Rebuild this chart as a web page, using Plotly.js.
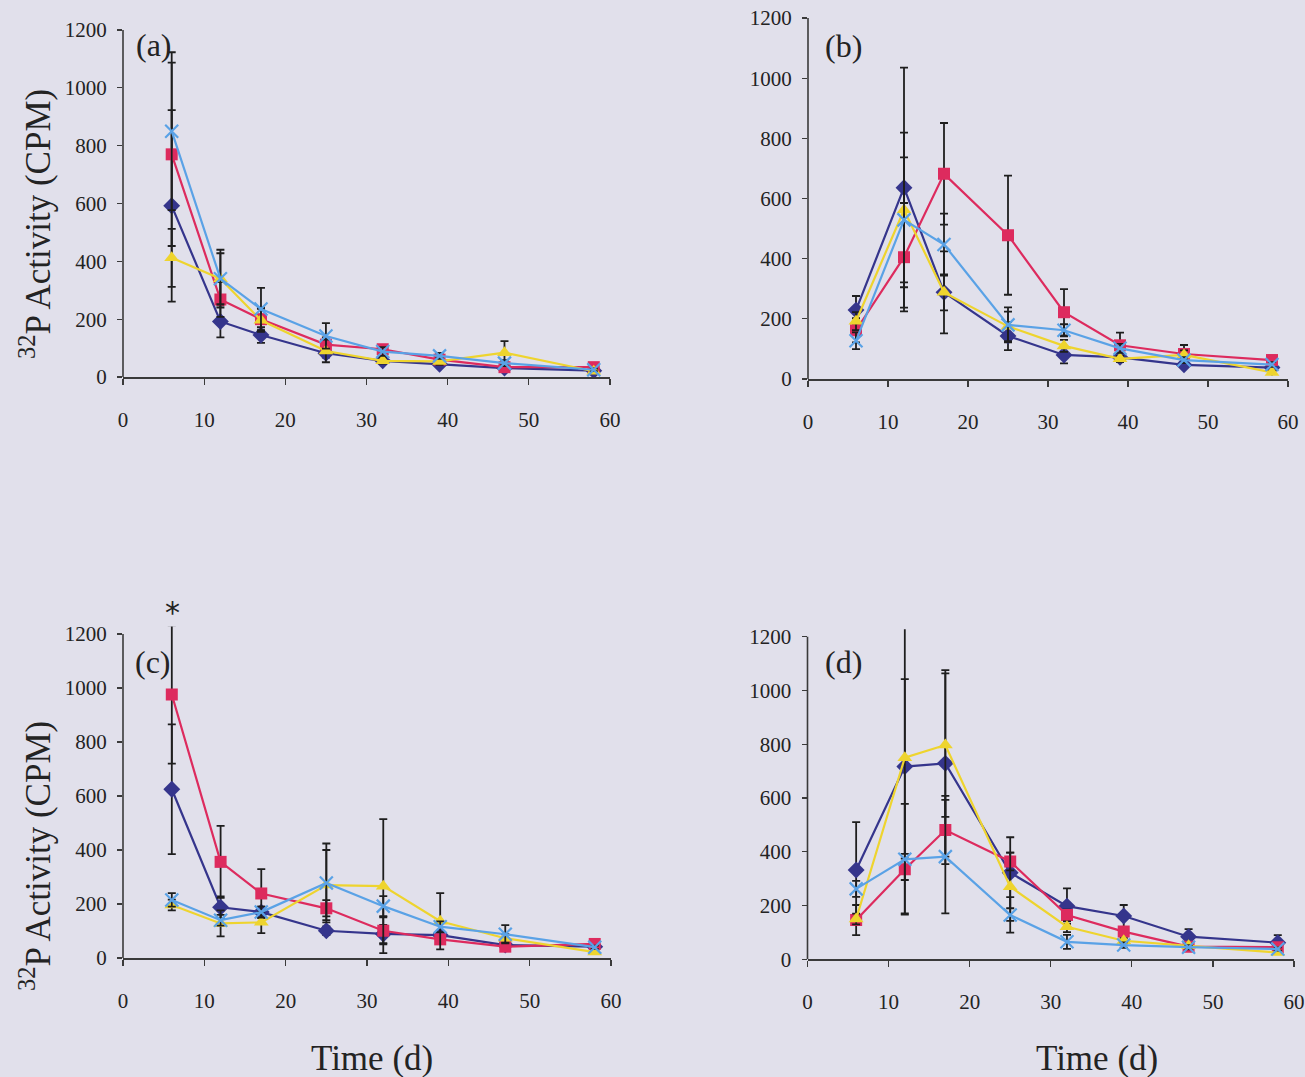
<!DOCTYPE html>
<html>
<head>
<meta charset="utf-8">
<script src="https://cdn.plot.ly/plotly-3.0.1.min.js"></script>
<style>
  html, body { margin: 0; padding: 0; background: #e1e0eb; }
  #chart { width: 1305px; height: 1077px; }
</style>
</head>
<body>
<div id="chart"></div>
<script>
// ---- data (time in days, 32P activity in CPM) ----
const days = [6, 12, 17, 25, 32, 39, 47, 58];
const yTicks = [0, 200, 400, 600, 800, 1000, 1200];
const xTicks = [0, 10, 20, 30, 40, 50, 60];
const panelLabels = ['(a)', '(b)', '(c)', '(d)'];
const seriesNames = ['Series 1', 'Series 2', 'Series 3', 'Series 4'];

// panel (a)
const aDiamond = [592, 192, 145, 82, 56, 44, 31, 22];
const aDiamondErr = [331, 55, 27, 15, 10, 8, 6, 4];
const aSquare = [770, 268, 200, 112, 96, 60, 34, 34];
const aSquareErr = [317, 60, 40, 25, 12, 10, 8, 6];
const aTriangle = [412, 340, 196, 90, 56, 54, 84, 20];
const aTriangleErr = [100, 88, 40, 39, 10, 12, 40, 5];
const aCross = [850, 340, 235, 142, 88, 73, 48, 25];
const aCrossErr = [273, 100, 73, 44, 15, 10, 10, 5];

// panel (b)
const bDiamond = [229, 636, 288, 143, 80, 72, 47, 38];
const bDiamondErr = [47, 399, 136, 47, 28, 15, 10, 8];
const bSquare = [162, 405, 682, 478, 222, 112, 83, 63];
const bSquareErr = [40, 180, 169, 198, 77, 42, 30, 15];
const bTriangle = [192, 562, 288, 175, 110, 67, 80, 22];
const bTriangleErr = [30, 257, 60, 49, 20, 10, 15, 5];
const bCross = [127, 529, 447, 180, 162, 102, 63, 48];
const bCrossErr = [28, 208, 103, 58, 20, 15, 10, 8];

// panel (c)
const cDiamond = [625, 188, 170, 101, 89, 85, 48, 42];
const cDiamondErr = [240, 40, 20, 16, 34, 15, 8, 6];
const cSquare = [976, 356, 239, 184, 101, 69, 42, 52];
const cSquareErr = [256, 133, 90, 30, 50, 12, 8, 6];
const cTriangle = [196, 128, 132, 270, 266, 136, 73, 22];
const cTriangleErr = [20, 48, 40, 130, 248, 104, 15, 5];
const cCross = [215, 140, 170, 278, 192, 116, 88, 40];
const cCrossErr = [25, 20, 20, 146, 37, 20, 34, 6];

// panel (d)
const dDiamond = [332, 717, 729, 322, 198, 161, 84, 62];
const dDiamondErr = [178, 325, 347, 132, 66, 41, 28, 28];
const dSquare = [146, 335, 481, 364, 165, 103, 47, 45];
const dSquareErr = [56, 40, 127, 33, 20, 15, 8, 8];
const dTriangle = [150, 750, 797, 270, 121, 69, 50, 25];
const dTriangleErr = [20, 579, 267, 127, 20, 10, 8, 5];
const dCross = [262, 372, 382, 165, 65, 53, 45, 38];
const dCrossErr = [30, 206, 211, 66, 26, 10, 8, 6];

// ---- styles ----
const FONT = '"Liberation Serif", "Times New Roman", serif';
const TXT = '#232323';
const AX = '#3a3a3a';
const styles = [
  { color: '#35358c', symbol: 'diamond', size: 13, lw: 0 },
  { color: '#dd2b5e', symbol: 'square', size: 12, lw: 0 },
  { color: '#eed42e', symbol: 'triangle-up', size: 13, lw: 0 },
  { color: '#5aa2e6', symbol: 'x-thin-open', size: 13, lw: 2.2 }
];

const panels = [
  { xa: 'x',  ya: 'y',  series: [[aDiamond, aDiamondErr], [aSquare, aSquareErr], [aTriangle, aTriangleErr], [aCross, aCrossErr]] },
  { xa: 'x2', ya: 'y2', series: [[bDiamond, bDiamondErr], [bSquare, bSquareErr], [bTriangle, bTriangleErr], [bCross, bCrossErr]] },
  { xa: 'x3', ya: 'y3', series: [[cDiamond, cDiamondErr], [cSquare, cSquareErr], [cTriangle, cTriangleErr], [cCross, cCrossErr]] },
  { xa: 'x4', ya: 'y4', series: [[dDiamond, dDiamondErr], [dSquare, dSquareErr], [dTriangle, dTriangleErr], [dCross, dCrossErr]] }
];

const traces = [];
panels.forEach(p => {
  p.series.forEach((s, i) => {
    const st = styles[i];
    traces.push({
      type: 'scatter', mode: 'lines+markers',
      name: seriesNames[i], showlegend: false,
      x: days, y: s[0],
      xaxis: p.xa, yaxis: p.ya,
      line: { color: st.color, width: 2.2 },
      marker: { symbol: st.symbol, size: st.size, color: st.color,
                line: { color: st.color, width: st.lw } },
      error_y: { type: 'data', array: s[1], visible: true,
                 color: '#1e1e1e', thickness: 1.8, width: 4 }
    });
  });
});

// pixel-based placement of the four plot areas
const W = 1305, H = 1077;
const boxes = [
  { l: 123, r: 610, b: 377, t: 21.9 },
  { l: 808, r: 1288, b: 379, t: 9.6 },
  { l: 123, r: 611, b: 958, t: 626.4 },
  { l: 807.5, r: 1294, b: 959.3, t: 629.2 }
];

function xAxis(box) {
  return {
    domain: [box.l / W, box.r / W], range: [0, 60],
    tickmode: 'array', tickvals: xTicks,
    ticks: 'outside', ticklen: 6, tickwidth: 1.3, tickcolor: AX,
    showline: true, linecolor: AX, linewidth: 1.6,
    showgrid: false, zeroline: false, fixedrange: true,
    tickfont: { family: FONT, size: 21, color: TXT },
    ticklabelstandoff: 17,
    ticklabeloverflow: 'allow'
  };
}
function yAxis(box, anchor) {
  return {
    domain: [1 - box.b / H, 1 - box.t / H], range: [0, 1228],
    anchor: anchor,
    tickmode: 'array', tickvals: yTicks,
    ticks: 'outside', ticklen: 5, tickwidth: 1.3, tickcolor: AX,
    showline: false, showgrid: false, zeroline: false, fixedrange: true,
    tickfont: { family: FONT, size: 21, color: TXT },
    ticklabelstandoff: 6,
    ticklabeloverflow: 'allow'
  };
}

const layout = {
  width: W, height: H,
  margin: { l: 0, r: 0, t: 0, b: 0 },
  paper_bgcolor: '#e1e0eb', plot_bgcolor: 'rgba(0,0,0,0)',
  showlegend: false,
  font: { family: FONT, color: TXT },
  xaxis: Object.assign(xAxis(boxes[0]), { anchor: 'y' }),
  yaxis: yAxis(boxes[0], 'x'),
  xaxis2: Object.assign(xAxis(boxes[1]), { anchor: 'y2' }),
  yaxis2: yAxis(boxes[1], 'x2'),
  xaxis3: Object.assign(xAxis(boxes[2]), { anchor: 'y3' }),
  yaxis3: yAxis(boxes[2], 'x3'),
  xaxis4: Object.assign(xAxis(boxes[3]), { anchor: 'y4' }),
  yaxis4: yAxis(boxes[3], 'x4'),
  shapes: ['', '2', '3', '4'].map(k => ({
    type: 'line', xref: 'x' + k + ' domain', yref: 'y' + k,
    x0: 0, x1: 0, y0: 0, y1: yTicks[yTicks.length - 1],
    line: { color: AX, width: 1.6 }, layer: 'above'
  })),
  annotations: [
    { text: panelLabels[0], x: 154 / W, y: 1 - 45 / H },
    { text: panelLabels[1], x: 843 / W, y: 1 - 46 / H },
    { text: panelLabels[2], x: 153 / W, y: 1 - 662 / H },
    { text: panelLabels[3], x: 843 / W, y: 1 - 662 / H }
  ].map(a => Object.assign(a, {
    xref: 'paper', yref: 'paper', showarrow: false,
    xanchor: 'center', yanchor: 'middle',
    font: { family: FONT, size: 32, color: TXT }
  })).concat([
    { text: '<sup>32</sup>P Activity (CPM)', x: 35 / W, y: 1 - 224 / H, textangle: -90 },
    { text: '<sup>32</sup>P Activity (CPM)', x: 35 / W, y: 1 - 856 / H, textangle: -90 },
    { text: 'Time (d)', x: 372 / W, y: 1 - 1058 / H },
    { text: 'Time (d)', x: 1097 / W, y: 1 - 1058 / H }
  ].map(a => Object.assign(a, {
    xref: 'paper', yref: 'paper', showarrow: false,
    xanchor: 'center', yanchor: 'middle',
    font: { family: FONT, size: 35, color: TXT }
  }))).concat([
    { text: '*', x: 172 / W, y: 1 - 612 / H, xref: 'paper', yref: 'paper',
      showarrow: false, xanchor: 'center', yanchor: 'middle',
      font: { family: '"DejaVu Sans", sans-serif', size: 30, color: TXT } }
  ])
};

Plotly.newPlot('chart', traces, layout, { displayModeBar: false, staticPlot: true });
</script>
</body>
</html>
